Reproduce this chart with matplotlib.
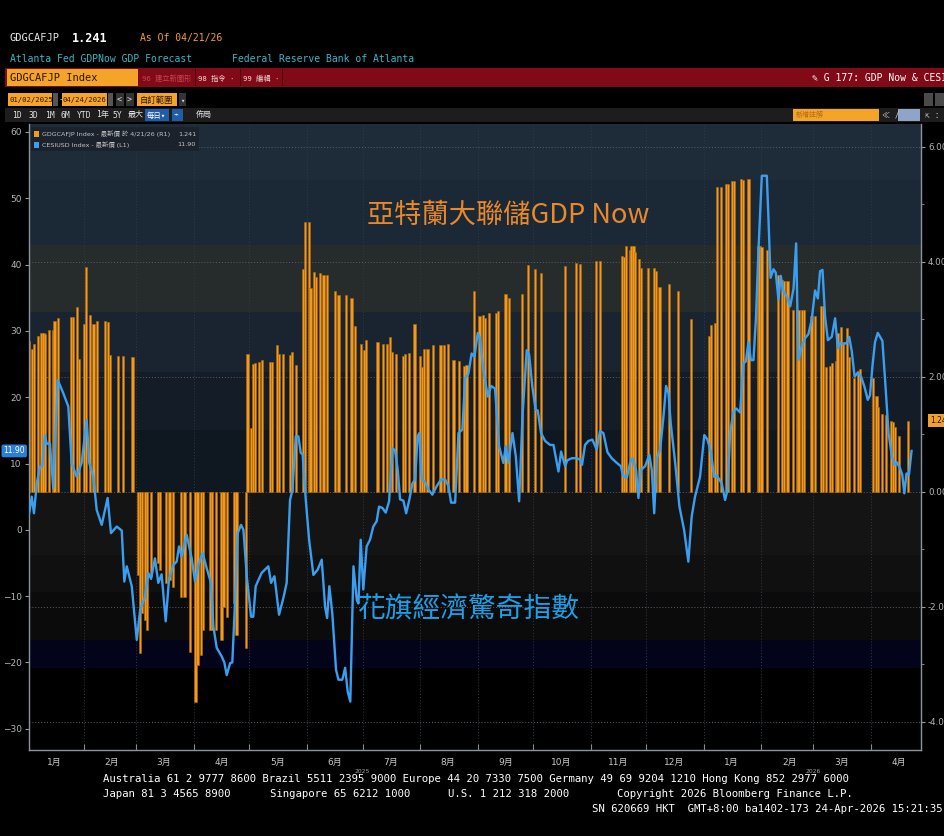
import pandas as pd
import matplotlib
matplotlib.use('Agg')
import matplotlib.pyplot as plt
import matplotlib.dates as mdates
import matplotlib.transforms as mtransforms
from matplotlib.patches import Rectangle
from matplotlib.ticker import FuncFormatter, FixedLocator, NullFormatter

plt.rcParams['font.family'] = ['DejaVu Sans', 'Noto Sans CJK TC']
MONO = ['DejaVu Sans Mono', 'Noto Sans CJK TC']
CJK = ['Noto Sans CJK TC', 'DejaVu Sans']

# ============================================
# DATA  (days counted from 01/02/2025)
# ============================================
START = pd.Timestamp('2025-01-02')
END = pd.Timestamp('2026-04-28')

# GDGCAFJP Index - Atlanta Fed GDPNow (R1, %)
gdp_days = [
    0, 2, 3, 5, 7, 8, 9, 11, 13, 14,
    16, 23, 24, 26, 27, 30, 31, 33, 35, 37,
    41, 43, 44, 48, 51, 56, 59, 60, 61, 63,
    64, 66, 70, 71, 74, 76, 78, 82, 84, 87,
    90, 91, 93, 94, 98, 99, 101, 104, 105, 107,
    111, 112, 117, 118, 120, 121, 122, 124, 126, 130,
    131, 134, 135, 137, 141, 142, 144, 148, 149, 151,
    152, 154, 155, 157, 159, 161, 165, 167, 171, 174,
    176, 179, 181, 182, 188, 191, 193, 195, 196, 198,
    202, 203, 205, 208, 211, 212, 213, 215, 218, 222,
    224, 226, 229, 232, 235, 236, 240, 243, 245, 246,
    248, 252, 253, 257, 259, 266, 269, 273, 276, 289,
    295, 297, 306, 308, 320, 321, 322, 324, 325, 326,
    327, 329, 330, 334, 337, 338, 340, 345, 350, 357,
    367, 368, 370, 371, 373, 376, 377, 379, 380, 384,
    385, 388, 393, 394, 395, 398, 404, 406, 407, 409,
    412, 414, 415, 417, 418, 422, 424, 427, 428, 430,
    432, 433, 435, 436, 438, 439, 441, 442, 445, 447,
    448, 455, 457, 458, 460, 462, 465, 466, 467, 469,
    474,
]
gdp_vals = [
    2.63, 2.49, 2.57, 2.71, 2.76, 2.76, 2.75, 2.81, 2.81, 2.98,
    3.02, 3.04, 3.04, 3.21, 2.31, 2.92, 3.92, 3.08, 2.92, 2.98,
    2.98, 2.96, 2.38, 2.36, 2.36, 2.35, -1.44, -2.80, -2.10, -2.22,
    -2.40, -1.47, -1.24, -1.36, -1.59, -1.53, -1.65, -1.82, -1.82, -2.78,
    -3.65, -3.01, -2.84, -2.40, -2.40, -2.40, -2.40, -2.57, -2.00, -2.17,
    -1.93, -2.49, -2.72, 2.40, 1.12, 2.23, 2.24, 2.26, 2.30, 2.26,
    2.26, 2.56, 2.40, 2.40, 2.38, 2.43, 2.21, 3.88, 4.70, 4.70,
    3.54, 3.83, 3.73, 3.80, 3.77, 3.77, 3.50, 3.42, 3.43, 3.38,
    2.88, 2.57, 2.47, 2.64, 2.61, 2.57, 2.57, 2.70, 2.43, 2.40,
    2.37, 2.40, 2.41, 2.92, 2.37, 2.18, 2.49, 2.49, 2.56, 2.56,
    2.56, 2.57, 2.30, 2.28, 2.19, 2.21, 3.50, 3.06, 3.07, 3.02,
    3.12, 3.12, 3.15, 3.44, 3.37, 3.44, 3.94, 3.88, 3.80, 3.93,
    3.98, 3.96, 4.02, 4.02, 4.10, 4.08, 4.27, 4.21, 4.27, 4.27,
    4.18, 4.06, 3.90, 3.90, 3.90, 3.84, 3.56, 3.61, 3.50, 3.01,
    2.71, 2.90, 2.93, 5.30, 5.30, 5.35, 5.35, 5.40, 5.40, 5.45,
    5.43, 5.44, 4.27, 4.27, 4.26, 4.20, 3.77, 3.68, 3.67, 3.67,
    3.17, 3.17, 3.17, 3.17, 3.17, 3.06, 3.06, 3.23, 3.23, 2.17,
    2.19, 2.25, 2.27, 2.76, 2.87, 2.60, 2.85, 2.35, 1.99, 2.11,
    2.14, 1.98, 1.66, 1.47, 1.36, 1.33, 1.24, 1.22, 1.13, 0.97,
    1.241,
]

# CESIUSD Index - Citi Economic Surprise Index (L1)
cesi_days = [
    0.2, 1.7, 2.9, 4.4, 6.1, 7.4, 8.8, 9.7, 11.5, 13.3,
    15.7, 18.7, 21.4, 23.2, 25.9, 28.6, 31.3, 32.7, 34.9, 36.7,
    39.4, 42.6, 44.4, 47.5, 50.2, 51.6, 52.9, 55.6, 58.3, 60.1,
    62.7, 64.5, 66.0, 68.1, 69.9, 71.7, 73.9, 75.7, 78.0, 79.8,
    81.1, 82.5, 85.2, 87.9, 89.7, 91.5, 93.8, 96.0, 98.3,
    99.6, 101.4, 104.1, 105.5, 106.8, 108.6, 109.8, 111.3, 112.7, 114.5,
    115.8, 117.6, 119.9, 121.1, 122.4, 125.6, 127.4, 129.2, 130.7, 132.5,
    135.0, 137.3, 139.1, 140.9, 142.2, 144.0, 145.4, 146.7, 147.7, 149.4,
    151.2, 153.5, 155.8, 158.0, 159.8, 160.9, 162.1, 163.7, 165.7, 167.0,
    169.1, 170.6, 172.0, 173.4, 175.1, 176.9, 177.8, 179.0, 180.4, 182.2,
    184.0, 185.8, 187.6, 188.9, 190.7, 192.5,
    194.3, 196.1, 197.5, 199.0, 200.2, 202.0, 203.5, 205.1, 206.9, 208.3,
    209.7, 210.6, 211.9, 213.7, 215.5, 217.6, 220.0, 222.3, 224.5, 226.3,
    227.7, 229.9, 231.7, 233.8, 235.3, 237.0, 238.8, 240.3, 242.1, 243.3,
    245.1, 247.5, 249.3, 251.4, 253.6, 255.9, 257.2, 258.6, 260.8, 262.6,
    264.4, 266.2, 268.5, 269.8, 271.5, 273.3, 274.4, 276.2, 278.4, 281.1,
    282.9, 285.6, 287.0, 289.2,
    290.4, 292.8, 295.4, 297.2, 298.3, 299.9, 301.7, 303.9, 306.2, 308.0,
    309.8, 312.0, 314.3, 317.0, 319.2, 320.6, 322.4, 324.2, 325.6, 327.4,
    328.7, 330.0, 332.3, 334.6, 335.9, 337.2, 338.6, 340.4, 342.2, 343.6,
    344.9, 346.1, 348.5, 350.8, 353.3, 355.6, 357.4, 359.2, 361.9, 364.2,
    365.9, 367.7, 369.5, 370.9, 373.6, 375.4, 376.7, 378.1, 379.9, 381.4,
    383.5, 385.3, 386.6, 388.0, 389.3, 390.7, 392.0, 393.4, 395.2, 397.9,
    398.8, 399.9, 401.5, 402.7, 404.2, 405.4, 406.9, 408.7, 410.5, 412.3,
    413.7, 414.9, 416.7, 418.5, 420.3, 422.1, 423.9, 425.4, 426.6, 427.9,
    429.3, 430.8, 432.9, 434.7, 436.2, 437.6, 439.2, 441.0, 442.3, 443.7,
    445.2, 446.9, 448.7, 450.5, 452.3, 453.5, 454.8, 456.2, 457.7, 460.2,
    462.0, 463.5, 465.3, 466.7, 467.9, 469.7, 470.9, 472.0, 473.2, 474.5,
    475.9,
]
cesi_vals = [
    2.3, 5.0, 2.5, 7.0, 9.5, 9.6, 14.3, 13.0, 13.0, 6.3,
    22.6, 20.6, 18.6, 10.1, 8.0, 10.1, 16.6, 10.1, 8.0, 3.0,
    0.75, 4.8, -0.5, 0.5, -0.1, -7.8, -5.5, -8.5, -16.6, -12.1,
    -10.1, -6.5, -7.4, -4.3, -8.0, -6.7, -13.8, -7.4, -5.3, -4.8,
    -2.5, -4.0, -0.75, -4.3, -7.8, -5.3, -3.5, -5.8, -8.0,
    -14.6, -17.8, -19.1, -20.0, -21.9, -20.1, -20.0, -10.6, -0.5, 0.75,
    0.0, -7.0, -13.1, -13.1, -8.5, -6.5, -6.0, -5.5, -8.0, -7.0,
    -12.8, -10.3, -8.0, 4.5, 6.0, 14.1, 14.1, 11.6, 11.4, 4.5,
    -1.5, -6.8, -6.0, -4.5, -11.6, -13.3, -8.5, -12.6, -21.1, -22.6,
    -22.6, -20.8, -24.4, -25.9, -5.5, -10.6, -11.1, -1.5, -9.0, -2.5,
    -1.5, 0.5, 1.3, 3.5, 3.3, 2.6,
    4.3, 12.3, 12.0, 9.0, 4.6, 4.4, 2.5, 4.4, 7.0, 7.6,
    14.1, 14.6, 7.6, 7.2, 6.1, 5.3, 6.6, 7.6, 7.6, 6.6,
    4.1, 4.1, 14.6, 15.1, 22.9, 23.5, 26.6, 26.1, 29.7, 28.9,
    24.1, 20.1, 21.7, 21.3, 12.6, 10.1, 12.6, 10.1, 14.6, 11.1,
    4.3, 17.1, 27.1, 26.4, 21.6, 18.1, 18.0, 14.6, 13.4, 12.8,
    12.8, 8.8, 11.8, 9.6,
    10.5, 10.8, 10.8, 10.6, 9.8, 12.8, 13.4, 13.6, 12.1, 14.9,
    14.6, 11.7, 10.8, 10.1, 9.6, 8.1, 7.8, 10.1, 10.8, 9.0,
    4.8, 9.0, 9.6, 11.3, 9.0, 2.5, 10.8, 12.1, 17.1, 21.7,
    20.6, 16.1, 10.1, 3.5, 0.0, -4.8, 2.0, 5.0, 8.0, 14.3,
    13.6, 11.8, 8.0, 8.2, 7.0, 4.5, 6.0, 14.6, 17.8, 18.3,
    17.7, 25.1, 25.4, 28.3, 25.6, 25.6, 31.7, 42.2, 53.4, 53.4,
    46.8, 38.0, 39.3, 38.8, 34.7, 38.3, 35.9, 35.2, 33.7, 36.4,
    43.2, 25.6, 27.6, 28.9, 29.5, 31.7, 36.1, 34.9, 39.0, 39.2,
    32.2, 28.6, 29.1, 31.9, 27.4, 28.2, 28.0, 28.2, 29.1, 26.9,
    23.1, 23.7, 23.1, 21.6, 19.6, 20.3, 24.6, 28.3, 29.7, 28.5,
    21.1, 14.6, 11.1, 9.8, 10.2, 9.3, 8.3, 5.5, 8.5, 8.3,
    11.9,
]

left_ticks = [-30, -20, -10, 0, 10, 20, 30, 40, 50, 60]
right_ticks = [-4, -2, 0, 2, 4, 6]
right_labels = ['-4.00', '-2.00', '0.00', '2.00', '4.00', '6.00']

# ============================================
# FIGURE + PIXEL HELPERS
# ============================================
W, H = 945, 836
fig = plt.figure(figsize=(W / 100, H / 100), dpi=100, facecolor='black')


def fx(x):
    return x / W


def fy(y):
    return 1 - y / H


def box(x, y, w, h, color, z=1):
    fig.patches.append(Rectangle((fx(x), fy(y + h)), w / W, h / H,
                                 transform=fig.transFigure, facecolor=color,
                                 edgecolor='none', zorder=z))


def txt(x, y, s, **kw):
    kw.setdefault('va', 'center')
    kw.setdefault('family', MONO)
    fig.text(fx(x), fy(y), s, **kw)


# ============================================
# HEADER (Bloomberg terminal bars)
# ============================================
txt(10, 38, 'GDGCAFJP', color='#e6e6e6', fontsize=7.5)
txt(72, 38, '1.241', color='white', fontsize=8.5, weight='bold')
txt(140, 38, 'As Of 04/21/26', color='#f0a030', fontsize=7)
txt(10, 59, 'Atlanta Fed GDPNow GDP Forecast', color='#3cb6c8', fontsize=7)
txt(232, 59, 'Federal Reserve Bank of Atlanta', color='#3cb6c8', fontsize=7)

box(5, 68, 940, 19, '#820a16')
box(7, 69, 131, 17, '#f5a42a', z=2)
txt(10, 78, 'GDGCAFJP Index', color='#2a1400', fontsize=7.5)
txt(142, 78, '96 建立新圖形 ·', color='#c24656', fontsize=5.2)
txt(198, 78, '98 指令 ·', color='#f0d8d8', fontsize=5.2)
txt(243, 78, '99 編輯 ·', color='#f0d8d8', fontsize=5.2)
for sx in (195, 240, 282):
    box(sx, 69, 1, 17, '#4a0008', z=2)
txt(812, 78, '✎ G 177: GDP Now & CESI', color='white', fontsize=7)

box(8, 93, 44, 13, '#f5a42a')
txt(9, 100, '01/02/2025', color='#2a1400', fontsize=5.2)
box(53, 93, 5, 13, '#555555')
txt(59, 100, '-', color='#cccccc', fontsize=6)
box(62, 93, 45, 13, '#f5a42a')
txt(63, 100, '04/24/2026', color='#2a1400', fontsize=5.2)
box(108, 93, 5, 13, '#555555')
box(116, 93, 8, 13, '#333333')
txt(117, 100, '<', color='#dddddd', fontsize=6)
box(126, 93, 8, 13, '#333333')
txt(127, 100, '>', color='#dddddd', fontsize=6)
box(137, 93, 40, 13, '#f5a42a')
txt(140, 100, '自訂範圍', color='#2a1400', fontsize=6, family=CJK)
box(179, 93, 7, 13, '#333333')
txt(180, 100, '▾', color='#dddddd', fontsize=5)
box(924, 93, 9, 13, '#4a4a4a')
box(935, 93, 10, 13, '#4a4a4a')

box(5, 108, 940, 14, '#1d1d1d')
for lx, s in [(12, '1D'), (29, '3D'), (45, '1M'), (61, '6M'), (77, 'YTD'),
              (96, '1年'), (113, '5Y'), (128, '最大')]:
    txt(lx, 115, s, color='#e0e0e0', fontsize=5.8)
box(145, 109, 24, 12, '#1f5da8', z=2)
txt(147, 115, '每日▾', color='white', fontsize=5.3)
box(172, 109, 11, 12, '#1f5da8', z=2)
txt(174, 115, '⌁', color='white', fontsize=5.8)
txt(196, 115, '佈局', color='#e0e0e0', fontsize=5.8)
box(793, 109, 86, 12, '#f5a42a', z=2)
txt(796, 115, '新增註解', color='#b06a10', fontsize=5, family=CJK)
txt(882, 115, '≪ /', color='#cccccc', fontsize=5.8)
box(898, 109, 22, 12, '#8ea4c8', z=2)
txt(925, 115, '⇱ :', color='#cccccc', fontsize=5.8)

# ============================================
# MAIN CHART
# ============================================
ax = fig.add_axes([fx(28.6), fy(750), (921 - 28.6) / W, (750 - 124) / H])
ax.set_facecolor('black')

# Bloomberg gradient bands (pixel rows of the plot area)
bands = [
    (124, 180, '#1e2b39'), (180, 245, '#1b2835'), (245, 312, '#262b2b'),
    (312, 372, '#1a2430'), (372, 430, '#131c27'), (430, 492, '#0f1720'),
    (492, 555, '#141414'), (555, 592, '#101010'), (592, 640, '#0b0b0b'),
    (640, 668, '#03031a'), (668, 750, '#000000'),
]
for y0, y1, c in bands:
    ax.add_patch(Rectangle((0, (750 - y1) / 626), 1, (y1 - y0) / 626,
                           transform=ax.transAxes, facecolor=c,
                           edgecolor='none', zorder=0))

gdp_dates = START + pd.to_timedelta(gdp_days, unit='D')
ax.bar(gdp_dates, gdp_vals, width=1.2, color='#f29a1f',
       edgecolor='#b06a0c', linewidth=0.4, zorder=3)
ax.set_xlim(START, END)
ax.set_ylim(-4.49, 6.40)

ax2 = ax.twinx()
cesi_dates = START + pd.to_timedelta(cesi_days, unit='D')
ax2.plot(cesi_dates, cesi_vals, color='#3a9ff0', lw=1.7, zorder=4,
         solid_joinstyle='round')
ax2.set_ylim(-33.2, 61.2)

# right axis = GDPNow, left axis = CESI
ax.yaxis.tick_right()
ax.set_yticks(right_ticks)
ax.set_yticklabels(right_labels)
ax.yaxis.set_minor_locator(FixedLocator([-3, -1, 1, 3, 5]))
ax.tick_params(axis='y', which='both', colors='#9a9a9a', labelcolor='#b4b4b4',
               labelsize=6.3, length=3, pad=2)
ax.tick_params(axis='y', which='minor', length=2)
ax2.yaxis.tick_left()
ax2.set_yticks(left_ticks)
ax2.tick_params(axis='y', colors='#9a9a9a', labelcolor='#b4b4b4',
                labelsize=6.5, length=3, pad=2)

ax.grid(axis='y', which='major', color='#56606b', ls=(0, (1, 2)), lw=0.7)
ax.grid(axis='x', which='major', color='#303b47', ls=(0, (1, 2)), lw=0.7)

ax.xaxis.set_major_locator(mdates.MonthLocator())
ax.xaxis.set_major_formatter(NullFormatter())
ax.xaxis.set_minor_locator(mdates.MonthLocator(bymonthday=16))
ax.xaxis.set_minor_formatter(
    FuncFormatter(lambda v, p: f'{mdates.num2date(v).month}月'))
ax.tick_params(axis='x', which='major', length=4, color='#8a8a8a',
               direction='in')
ax.tick_params(axis='x', which='minor', length=0, labelsize=6.5,
               labelcolor='#c8c8c8', pad=6)

xtrans = mtransforms.blended_transform_factory(ax.transData, ax.transAxes)
for yr, d in [('2025', '2025-07-01'), ('2026', '2026-03-01')]:
    ax.text(pd.Timestamp(d), -0.031, yr, transform=xtrans, ha='center',
            va='top', fontsize=4.3, color='#a0a0a0')

for a in (ax, ax2):
    a.spines['top'].set_visible(False)
    for s in ('left', 'right', 'bottom'):
        a.spines[s].set_color('#8d939a')
        a.spines[s].set_linewidth(1.0)
ax.spines['left'].set_visible(False)
ax2.spines['right'].set_visible(False)
ax2.spines['bottom'].set_visible(False)

# last-value tags
tl = mtransforms.blended_transform_factory(ax2.transAxes, ax2.transData)
ax2.text(-0.004, cesi_vals[-1], f'{cesi_vals[-1]:.2f}', transform=tl,
         ha='right', va='center', fontsize=5.5, color='white', clip_on=False,
         bbox=dict(boxstyle='round,pad=0.25', fc='#2b7fd4', ec='none'))
tr = mtransforms.blended_transform_factory(ax.transAxes, ax.transData)
ax.text(1.010, gdp_vals[-1], f'{gdp_vals[-1]:.2f}', transform=tr,
        ha='left', va='center', fontsize=5.5, color='#2a1400', clip_on=False,
        bbox=dict(boxstyle='square,pad=0.25', fc='#f0a030', ec='none'))

# legend box
box(31, 127, 168, 24, '#1b222b', z=5)
box(34, 131, 5, 6, '#f29a1f', z=6)
box(34, 142, 5, 6, '#3a9ff0', z=6)
fig.text(fx(42), fy(134), 'GDGCAFJP Index - 最新價 於 4/21/26 (R1)', fontsize=4.6,
         color='#c4c4c4', va='center', zorder=7)
fig.text(fx(196), fy(134), '1.241', fontsize=4.6, color='#c4c4c4',
         va='center', ha='right', zorder=7)
fig.text(fx(42), fy(145), 'CESIUSD Index - 最新價 (L1)', fontsize=4.6,
         color='#c4c4c4', va='center', zorder=7)
fig.text(fx(196), fy(145), '11.90', fontsize=4.6, color='#c4c4c4',
         va='center', ha='right', zorder=7)

# chart annotations
fig.text(fx(367), fy(215), '亞特蘭大聯儲GDP Now', fontsize=19.6, color='#e8892c',
         family=CJK, va='center', zorder=8)
fig.text(fx(357), fy(610), '花旗經濟驚奇指數', fontsize=20, color='#1c9fe6',
         family=CJK, va='center', zorder=8)

# ============================================
# FOOTER
# ============================================
txt(103, 779, 'Australia 61 2 9777 8600 Brazil 5511 2395 9000 Europe 44 20 7330 7500 '
    'Germany 49 69 9204 1210 Hong Kong 852 2977 6000', color='white', fontsize=7.65)
txt(103, 794, 'Japan 81 3 4565 8900', color='white', fontsize=7.65)
txt(270, 794, 'Singapore 65 6212 1000', color='white', fontsize=7.65)
txt(448, 794, 'U.S. 1 212 318 2000', color='white', fontsize=7.65)
txt(617, 794, 'Copyright 2026 Bloomberg Finance L.P.', color='white', fontsize=7.65)
txt(943, 809, 'SN 620669 HKT  GMT+8:00 ba1402-173 24-Apr-2026 15:21:35',
    color='white', fontsize=7.65, ha='right')

plt.savefig('out.png', dpi=100, facecolor='black')
plt.close()
